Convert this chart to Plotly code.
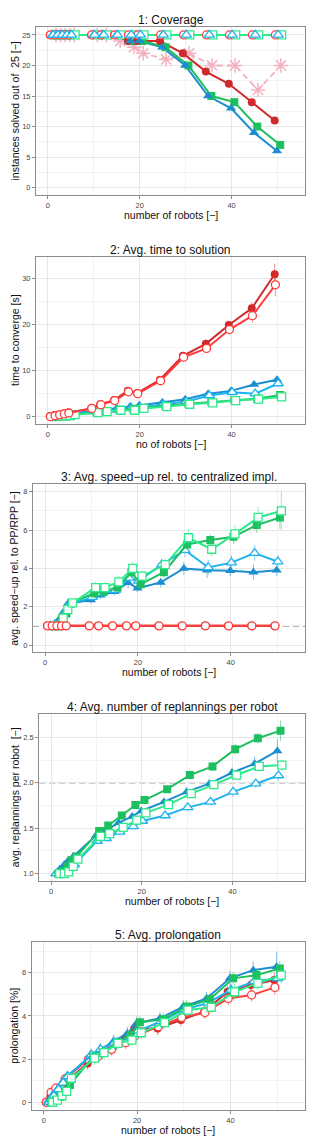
import plotly.graph_objects as go

# ---------------- data ----------------
X_BASE = [1, 2, 3, 4, 5, 10, 12, 15, 18, 20, 25, 30, 35, 40, 45, 50]

# panel 1: coverage (instances solved out of 25)
cov_red_f = [25, 25, 25, 25, 25, 25, 25, 25, 24, 24, 24, 22, 19, 17, 14, 11]
cov_red_o = [25, 25, 25, 25, 25, 25, 25, 25, 25, 25, 25, 25, 25, 25, 25, 25]
cov_blue_f = [25, 25, 25, 25, 25, 25, 25, 25, 24, 24, 23, 20, 15, 13, 9, 6]
cov_blue_o = [25, 25, 25, 25, 25, 25, 25, 25, 25, 25, 25, 25, 25, 25, 25, 25]
cov_green_f = [25, 25, 25, 25, 25, 25, 25, 25, 24, 24, 23, 20, 15, 14, 10, 7]
cov_green_o = [25, 25, 25, 25, 25, 25, 25, 25, 25, 25, 25, 25, 25, 25, 25, 25]
cov_pink = [25, 25, 25, 25, 25, 25, 25, 24, 23, 22, 21, 22, 20, 20, 16, 20]

# panel 2: time to converge [s]
t_red_f = [0.1, 0.3, 0.5, 0.7, 0.9, 1.8, 2.7, 3.6, 5.6, 5.1, 8.0, 13.2, 15.8, 19.9, 23.5, 30.9]
t_red_o = [0.0, 0.2, 0.4, 0.6, 0.8, 1.8, 2.6, 3.5, 5.4, 5.0, 7.8, 12.9, 14.8, 18.9, 21.9, 28.6]
t_blue_f = [0.1, 0.2, 0.3, 0.45, 0.6, 1.3, 1.6, 1.8, 2.2, 2.5, 3.1, 3.8, 5.0, 5.6, 7.0, 8.0]
t_blue_o = [0.0, 0.15, 0.3, 0.4, 0.5, 1.1, 1.3, 1.5, 1.9, 2.0, 2.7, 3.3, 4.6, 5.3, 5.0, 7.2]
t_green_f = [0.05, 0.1, 0.2, 0.3, 0.45, 0.95, 1.15, 1.5, 1.7, 1.9, 2.4, 2.8, 3.2, 3.6, 3.9, 4.7]
t_green_o = [0.0, 0.1, 0.15, 0.25, 0.45, 0.9, 1.1, 1.4, 1.4, 1.8, 2.2, 2.7, 3.0, 3.5, 3.8, 4.3]
t_red_f_err = [0.02, 0.05, 0.05, 0.1, 0.1, 0.2, 0.2, 0.3, 0.4, 0.4, 0.5, 0.6, 0.8, 0.9, 1.3, 2.3]
t_red_o_err = [0.02, 0.05, 0.05, 0.1, 0.1, 0.2, 0.2, 0.3, 0.4, 0.4, 0.5, 0.6, 0.8, 1.0, 1.5, 2.5]
t_blue_f_err = [0.02, 0.02, 0.02, 0.02, 0.02, 0.1, 0.1, 0.1, 0.15, 0.15, 0.2, 0.3, 0.4, 0.4, 0.6, 0.7]
t_blue_o_err = [0.02, 0.02, 0.02, 0.02, 0.02, 0.1, 0.1, 0.1, 0.15, 0.15, 0.2, 0.3, 0.4, 0.4, 0.5, 0.6]
t_green_f_err = [0.02, 0.02, 0.02, 0.02, 0.02, 0.05, 0.05, 0.1, 0.1, 0.1, 0.1, 0.15, 0.15, 0.2, 0.2, 0.3]
t_green_o_err = [0.02, 0.02, 0.02, 0.02, 0.02, 0.05, 0.05, 0.1, 0.1, 0.1, 0.1, 0.15, 0.15, 0.2, 0.2, 0.3]

# panel 3: avg. speed-up rel. to PP/RPP
s_red_f = [1, 1, 1, 1, 1, 1, 1, 1, 1, 1, 1, 1, 1, 1, 1, 1]
s_red_o = [1, 1, 1, 1, 1, 1, 1, 1, 1, 1, 1, 1, 1, 1, 1, 1]
s_blue_f = [1.0, 1.0, 1.3, 1.7, 2.15, 2.35, 2.6, 2.78, 3.25, 2.96, 3.27, 4.0, 3.9, 3.88, 3.8, 3.9]
s_blue_o = [1.0, 1.1, 1.2, 1.6, 2.1, 2.5, 2.7, 2.87, 3.5, 3.35, 4.2, 4.95, 4.05, 4.3, 4.8, 4.35]
s_green_f = [1.0, 1.0, 1.35, 1.65, 2.2, 2.7, 2.8, 3.0, 3.8, 3.17, 3.8, 5.25, 5.48, 5.65, 6.26, 6.66]
s_green_o = [1.0, 1.0, 1.4, 1.85, 2.2, 3.0, 3.0, 3.3, 4.0, 3.6, 4.2, 5.6, 5.0, 5.8, 6.66, 7.0]
s_red_err = [0, 0, 0, 0, 0, 0, 0, 0, 0, 0, 0, 0, 0, 0, 0, 0]
s_blue_f_err = [0.05, 0.05, 0.1, 0.1, 0.15, 0.2, 0.2, 0.2, 0.3, 0.2, 0.25, 0.35, 0.4, 0.3, 0.4, 0.3]
s_blue_o_err = [0.05, 0.05, 0.1, 0.1, 0.15, 0.2, 0.2, 0.2, 0.3, 0.25, 0.3, 0.35, 0.4, 0.4, 0.4, 0.35]
s_green_f_err = [0.05, 0.05, 0.1, 0.15, 0.15, 0.25, 0.25, 0.25, 0.3, 0.25, 0.3, 0.3, 0.3, 0.35, 0.4, 0.6]
s_green_o_err = [0.05, 0.05, 0.1, 0.15, 0.15, 0.3, 0.3, 0.3, 0.35, 0.3, 0.35, 0.45, 0.4, 0.45, 0.55, 1.0]
speedup_ref = 1.0

# panel 4: avg. replannings per robot
r_blue_f = [1.0, 1.05, 1.1, 1.15, 1.19, 1.42, 1.47, 1.56, 1.63, 1.69, 1.79, 1.90, 1.99, 2.11, 2.21, 2.35]
r_blue_o = [1.0, 1.01, 1.03, 1.06, 1.10, 1.36, 1.39, 1.46, 1.52, 1.58, 1.64, 1.73, 1.79, 1.90, 1.99, 2.08]
r_green_f = [1.0, 1.03, 1.08, 1.15, 1.19, 1.47, 1.53, 1.64, 1.755, 1.81, 1.93, 2.085, 2.18, 2.37, 2.49, 2.573]
r_green_o = [1.0, 1.0, 1.02, 1.08, 1.16, 1.41, 1.44, 1.51, 1.59, 1.67, 1.76, 1.88, 1.98, 2.085, 2.18, 2.195]
r_blue_f_err = [0.0, 0.01, 0.01, 0.02, 0.02, 0.03, 0.03, 0.03, 0.04, 0.04, 0.04, 0.05, 0.05, 0.06, 0.08, 0.13]
r_blue_o_err = [0.0, 0.01, 0.01, 0.02, 0.02, 0.03, 0.03, 0.03, 0.03, 0.03, 0.04, 0.04, 0.04, 0.05, 0.05, 0.06]
r_green_f_err = [0.0, 0.01, 0.01, 0.02, 0.02, 0.03, 0.03, 0.03, 0.04, 0.04, 0.04, 0.05, 0.05, 0.06, 0.06, 0.11]
r_green_o_err = [0.0, 0.01, 0.01, 0.02, 0.02, 0.03, 0.03, 0.03, 0.03, 0.03, 0.04, 0.04, 0.04, 0.05, 0.05, 0.06]
replan_ref = 2.0

# panel 5: avg. prolongation [%]
p_red_f = [0.0, 0.26, 0.49, 0.57, 0.88, 1.80, 2.11, 2.5, 2.96, 3.42, 3.42, 3.81, 4.2, 5.12, 5.43, 5.66]
p_red_o = [0.0, 0.46, 0.65, 0.65, 1.08, 1.99, 2.11, 2.45, 2.76, 3.07, 3.5, 3.93, 4.16, 4.81, 4.97, 5.32]
p_blue_f = [0.05, 0.35, 0.6, 0.9, 1.19, 2.11, 2.42, 2.81, 3.19, 3.66, 3.89, 4.43, 4.81, 5.74, 6.12, 6.28]
p_blue_o = [0.0, 0.3, 0.6, 0.9, 1.2, 2.2, 2.45, 2.75, 3.0, 3.3, 3.75, 4.3, 4.6, 5.2, 5.6, 5.74]
p_green_f = [0.0, 0.1, 0.25, 0.5, 0.8, 2.11, 2.3, 2.73, 3.12, 3.70, 3.84, 4.43, 4.77, 5.74, 5.89, 6.2]
p_green_o = [0.0, 0.1, 0.3, 0.5, 1.11, 2.04, 2.3, 2.73, 2.88, 3.22, 3.69, 4.27, 4.4, 5.12, 5.51, 5.89]
p_err_small = [0.05, 0.15, 0.2, 0.2, 0.25, 0.3, 0.3, 0.3, 0.3, 0.3, 0.3, 0.3, 0.3, 0.3, 0.3, 0.35]
p_blue_f_err = [0.05, 0.15, 0.2, 0.2, 0.25, 0.3, 0.3, 0.3, 0.3, 0.3, 0.3, 0.3, 0.3, 0.35, 0.4, 0.7]
p_green_o_err = [0.05, 0.15, 0.2, 0.2, 0.25, 0.3, 0.3, 0.3, 0.3, 0.3, 0.3, 0.3, 0.3, 0.35, 0.35, 0.4]

TITLES = ["1: Coverage", "2: Avg. time to solution", "3: Avg. speed\u2212up rel. to centralized impl.",
          "4: Avg. number of replannings per robot", "5: Avg. prolongation"]
XTITLES = ["number of robots [\u2212]", "no of robots [\u2212]", "number of robots [\u2212]",
           "number of robots [\u2212]", "number of robots [\u2212]"]
YTITLES = ["instances solved out of  25 [\u2212]", "time to converge [s]",
           "avg. speed\u2212up rel. to PP/RPP [\u2212]", "avg. replannings per robot  [\u2212]",
           "prolongation [%]"]

# ---------------- style ----------------
W, H = 318, 1143
FONT = "Liberation Sans, Arial, sans-serif"
# panel boxes in px: left, top, right, bottom
BOXES = [(36, 27, 305, 195), (36, 256.7, 305, 424.3), (33, 484.3, 305, 652.3),
         (39.3, 714.3, 305, 881), (31.7, 942.3, 305, 1110)]
XRANGE = [-2.6, 56.0]
YRANGES = [[-1.2, 26.3], [-1.65, 34.7], [-0.38, 8.39], [0.92, 2.753], [-0.36, 7.41]]
YDTICK = [5, 10, 2, 0.5, 2]
YTICK0 = [0, 0, 0, 1.0, 0]
YFMT = ["d", "d", "d", ".1f", "d"]

RED_F, RED_O = "#cf2a2a", "#ff3b3b"
BLUE_F, BLUE_O = "#1b8ecf", "#1fb3ef"
GREEN_F, GREEN_O = "#1dbf5e", "#2ee98b"
PINK = "#f3b2c1"

OFF = {"red_f": -0.6, "red_o": -0.45, "blue_f": -0.1, "blue_o": 0.15, "green_f": 0.6, "green_o": 0.9, "pink": 0.75}


def rgba(hexc, a):
    h = hexc.lstrip("#")
    return "rgba(%d,%d,%d,%.2f)" % (int(h[0:2], 16), int(h[2:4], 16), int(h[4:6], 16), a)


fig = go.Figure()


def add(panel, key, y, err, color, symbol, filled, size=8, dash="solid", lw=2.0, mode="lines+markers"):
    xs = [xb + OFF[key] for xb in X_BASE]
    if filled:
        marker = dict(symbol=symbol, size=size, color=color, line=dict(width=0))
    elif symbol.endswith("-open"):
        marker = dict(symbol=symbol, size=size, color=color, line=dict(color=color, width=1.5))
    else:
        marker = dict(symbol=symbol, size=size, color="white", line=dict(color=color, width=1.3))
    tr = go.Scatter(x=xs, y=y, mode=mode, line=dict(color=color, width=lw, dash=dash),
                    marker=marker, showlegend=False,
                    xaxis="x" if panel == 1 else "x%d" % panel,
                    yaxis="y" if panel == 1 else "y%d" % panel)
    if err is not None:
        tr.error_y = dict(type="data", array=err, visible=True, color=rgba(color, 0.55),
                          thickness=1, width=0)
    fig.add_trace(tr)


# panel 1: lines of all series first, then the point symbols
P1 = [("red_f", cov_red_f, RED_F, "circle", True, 8),
      ("red_o", cov_red_o, RED_O, "circle", False, 8),
      ("blue_f", cov_blue_f, BLUE_F, "triangle-up", True, 9),
      ("blue_o", cov_blue_o, BLUE_O, "triangle-up", False, 9),
      ("green_f", cov_green_f, GREEN_F, "square", True, 8),
      ("green_o", cov_green_o, GREEN_O, "square", False, 8)]
add(1, "pink", cov_pink, None, PINK, "asterisk-open", False, size=12, dash="6px,4px", lw=1.8)
for key, yv, col, sym, fl, sz in P1:
    add(1, key, yv, None, col, sym, fl, size=sz, mode="lines")
for idx in [4, 5, 0, 1, 2, 3]:
    key, yv, col, sym, fl, sz = P1[idx]
    add(1, key, yv, None, col, sym, fl, size=sz, mode="markers")

# panel 2
add(2, "blue_f", t_blue_f, t_blue_f_err, BLUE_F, "triangle-up", True, size=9)
add(2, "blue_o", t_blue_o, t_blue_o_err, BLUE_O, "triangle-up", False, size=9)
add(2, "green_f", t_green_f, t_green_f_err, GREEN_F, "square", True)
add(2, "green_o", t_green_o, t_green_o_err, GREEN_O, "square", False)
add(2, "red_f", t_red_f, t_red_f_err, RED_F, "circle", True)
add(2, "red_o", t_red_o, t_red_o_err, RED_O, "circle", False)

# panel 3
add(3, "blue_f", s_blue_f, s_blue_f_err, BLUE_F, "triangle-up", True, size=9)
add(3, "blue_o", s_blue_o, s_blue_o_err, BLUE_O, "triangle-up", False, size=9)
add(3, "green_f", s_green_f, s_green_f_err, GREEN_F, "square", True)
add(3, "green_o", s_green_o, s_green_o_err, GREEN_O, "square", False)
add(3, "red_f", s_red_f, s_red_err, RED_F, "circle", True)
add(3, "red_o", s_red_o, s_red_err, RED_O, "circle", False)

# panel 4
add(4, "blue_f", r_blue_f, r_blue_f_err, BLUE_F, "triangle-up", True, size=9)
add(4, "blue_o", r_blue_o, r_blue_o_err, BLUE_O, "triangle-up", False, size=9)
add(4, "green_f", r_green_f, r_green_f_err, GREEN_F, "square", True)
add(4, "green_o", r_green_o, r_green_o_err, GREEN_O, "square", False)

# panel 5
add(5, "red_f", p_red_f, p_err_small, RED_F, "circle", True)
add(5, "red_o", p_red_o, p_err_small, RED_O, "circle", False)
add(5, "blue_f", p_blue_f, p_blue_f_err, BLUE_F, "triangle-up", True, size=9)
add(5, "blue_o", p_blue_o, p_err_small, BLUE_O, "triangle-up", False, size=9)
add(5, "green_f", p_green_f, p_err_small, GREEN_F, "square", True)
add(5, "green_o", p_green_o, p_green_o_err, GREEN_O, "square", False)

layout = dict(width=W, height=H, margin=dict(l=0, r=0, t=0, b=0),
              paper_bgcolor="white", plot_bgcolor="white",
              font=dict(family=FONT, color="#222"), showlegend=False)
annotations = []
shapes = []
for i, (l, t, r, b) in enumerate(BOXES):
    n = i + 1
    xk = "xaxis" if n == 1 else "xaxis%d" % n
    yk = "yaxis" if n == 1 else "yaxis%d" % n
    ya = "y" if n == 1 else "y%d" % n
    xa = "x" if n == 1 else "x%d" % n
    layout[xk] = dict(domain=[l / W, r / W], anchor=ya, range=XRANGE,
                      tickmode="linear", tick0=0, dtick=20,
                      showgrid=True, gridcolor="#e6e6e6", gridwidth=1,
                      minor=dict(dtick=10, tick0=0, showgrid=True, gridcolor="#f3f3f3", gridwidth=0.8, ticks=""),
                      zeroline=False, showline=True, linecolor="#8c8c8c", linewidth=1, mirror=True,
                      ticks="outside", ticklen=3, tickcolor="#8c8c8c", tickwidth=1,
                      tickfont=dict(size=7.5, color="#444", family=FONT))
    layout[yk] = dict(domain=[1 - b / H, 1 - t / H], anchor=xa, range=YRANGES[i],
                      tickmode="linear", tick0=YTICK0[i], dtick=YDTICK[i], tickformat=YFMT[i],
                      showgrid=True, gridcolor="#e6e6e6", gridwidth=1,
                      minor=dict(dtick=YDTICK[i] / 2, tick0=YTICK0[i], showgrid=True, gridcolor="#f3f3f3",
                                 gridwidth=0.8, ticks=""),
                      zeroline=False, showline=True, linecolor="#8c8c8c", linewidth=1, mirror=True,
                      ticks="outside", ticklen=3, tickcolor="#8c8c8c", tickwidth=1,
                      tickfont=dict(size=7.5, color="#444", family=FONT))
    cx = (l + r) / 2 / W
    annotations.append(dict(text=TITLES[i], x=cx, y=1 - (t - 7) / H, xref="paper", yref="paper",
                            xanchor="center", yanchor="middle", showarrow=False,
                            font=dict(size=12, color="#111", family=FONT)))
    annotations.append(dict(text=XTITLES[i], x=cx, y=1 - (b + 20) / H, xref="paper", yref="paper",
                            xanchor="center", yanchor="middle", showarrow=False,
                            font=dict(size=10.5, color="#111", family=FONT)))
    annotations.append(dict(text=YTITLES[i], x=14.5 / W, y=1 - (t + b) / 2 / H, xref="paper", yref="paper",
                            xanchor="center", yanchor="middle", showarrow=False, textangle=-90,
                            font=dict(size=10.5, color="#111", family=FONT)))

shapes.append(dict(type="line", xref="x3 domain", yref="y3", x0=0, x1=1, y0=speedup_ref, y1=speedup_ref,
                   line=dict(color="#9e9e9e", width=1.6, dash="6px,4px"), layer="below"))
shapes.append(dict(type="line", xref="x4 domain", yref="y4", x0=0, x1=1, y0=replan_ref, y1=replan_ref,
                   line=dict(color="#9e9e9e", width=1.6, dash="6px,4px"), layer="below"))
layout["annotations"] = annotations
layout["shapes"] = shapes
fig.update_layout(**layout)
fig.write_html("out.html", config={"displayModeBar": False})

# remove the default page margin so the figure fills the window exactly
with open("out.html", "r", encoding="utf-8") as fh:
    html = fh.read()
html = html.replace("<head>", "<head><style>html,body{margin:0;padding:0;overflow:hidden;}</style>", 1)
with open("out.html", "w", encoding="utf-8") as fh:
    fh.write(html)
